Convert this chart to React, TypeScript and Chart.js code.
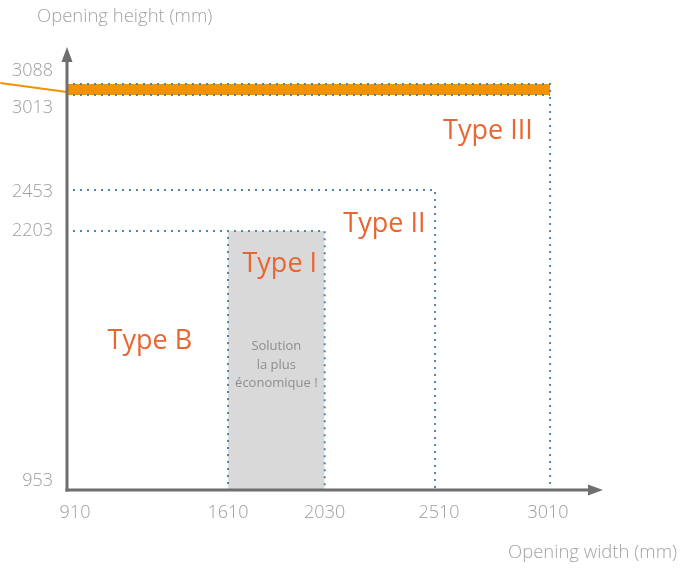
import React, { useEffect, useRef } from 'react';
import { Chart, registerables, LinearScale } from 'chart.js';

// ---- data ----
const xTicks = [910, 1610, 2030, 2510, 3010];
const yTicks = [953, 2203, 2453, 3013, 3088];
const xRange = [910, 3240];
const yRange = [953, 3330];
// schematic y axis: share of the axis height reached at each value
const ySegmentValues = [953, 2203, 2453, 3013, 3088, 3330];
const ySegmentShares = [0, 0.5847, 0.6772, 0.8916, 0.9165, 1];

const typeIWidths = [1610, 2030];
const typeIHeight = 2203;
const typeIIWidth = 2510;
const typeIIHeight = 2453;
const typeIIIWidth = 3010;
const typeIIIHeights = [3013, 3088];
const leaderX = [620, 910];
const leaderY = [3095, 3033];

const typeLabels = ['Type B', 'Type I', 'Type II', 'Type III'];
const typeLabelX = [1270, 1835, 2290, 2740];
const typeLabelY = [1670, 2040, 2245, 2800];
const noteLines = ['Solution', 'la plus', 'économique !'];
const noteX = 1820;
const noteY = 1555;

// label nudges (px) so labels don't collide with the axes / each other
const xTickNudge = [8, 0, 0, 4, -2];
const yTickNudge = [-9, 0, 2, 13, -13];

const DOT = '#4f87aa';
const ORANGE = '#f39200';
const RED = '#ea6532';
const GREY_TEXT = '#9d9d9d';
const AXIS = '#6f6f6f';
const FONT = "'Open Sans', 'Noto Sans', sans-serif";

function toShare(v: number) {
  const vs = ySegmentValues, ss = ySegmentShares;
  if (v <= vs[0]) return ss[0] + (v - vs[0]) / (vs[1] - vs[0]) * (ss[1] - ss[0]);
  for (let i = 1; i < vs.length; i++) {
    if (v <= vs[i]) return ss[i - 1] + (v - vs[i - 1]) / (vs[i] - vs[i - 1]) * (ss[i] - ss[i - 1]);
  }
  const n = vs.length - 1;
  return ss[n] + (v - vs[n]) / (vs[n] - vs[n - 1]) * (ss[n] - ss[n - 1]);
}
function fromShare(s: number) {
  const vs = ySegmentValues, ss = ySegmentShares;
  for (let i = 1; i < ss.length; i++) {
    if (s <= ss[i] || i === ss.length - 1) return vs[i - 1] + (s - ss[i - 1]) / (ss[i] - ss[i - 1]) * (vs[i] - vs[i - 1]);
  }
  return vs[vs.length - 1];
}

class SegmentScale extends LinearScale {
  static id = 'segment';
  static defaults = { ...(LinearScale as any).defaults };
  getPixelForValue(value: number) {
    return (this as any).getPixelForDecimal(toShare(value));
  }
  getValueForPixel(pixel: number) {
    return fromShare((this as any).getDecimalForPixel(pixel));
  }
}

Chart.register(...registerables, SegmentScale as any);

const pts = (xs: number[], ys: number[]) => xs.map((x, i) => ({ x, y: ys[i] }));

const overlay = {
  id: 'overlay',
  afterDatasetsDraw(chart: any) {
    const { ctx, chartArea: a, scales } = chart;
    const x = scales.x, y = scales.y;
    ctx.save();
    // axes
    ctx.strokeStyle = AXIS;
    ctx.fillStyle = AXIS;
    ctx.lineWidth = 3;
    ctx.beginPath();
    ctx.moveTo(a.left, a.bottom + 1.5);
    ctx.lineTo(a.left, a.top + 12);
    ctx.stroke();
    ctx.beginPath();
    ctx.moveTo(a.left - 1.5, a.bottom);
    ctx.lineTo(a.right - 12, a.bottom);
    ctx.stroke();
    ctx.beginPath();
    ctx.moveTo(a.left, a.top);
    ctx.lineTo(a.left - 5.5, a.top + 15);
    ctx.lineTo(a.left + 5.5, a.top + 15);
    ctx.closePath();
    ctx.fill();
    ctx.beginPath();
    ctx.moveTo(a.right, a.bottom);
    ctx.lineTo(a.right - 15, a.bottom - 5.5);
    ctx.lineTo(a.right - 15, a.bottom + 5.5);
    ctx.closePath();
    ctx.fill();

    // tick labels
    ctx.fillStyle = GREY_TEXT;
    ctx.font = `300 18px ${FONT}`;
    ctx.textAlign = 'center';
    ctx.textBaseline = 'middle';
    xTicks.forEach((v, i) => {
      ctx.fillText(String(v), x.getPixelForValue(v) + xTickNudge[i], a.bottom + 23);
    });
    ctx.textAlign = 'right';
    yTicks.forEach((v, i) => {
      ctx.fillText(String(v), a.left - 14, y.getPixelForValue(v) + yTickNudge[i]);
    });

    // axis titles
    ctx.font = `300 18.5px ${FONT}`;
    ctx.fillStyle = '#a3a3a3';
    ctx.textAlign = 'left';
    ctx.fillText('Opening height (mm)', 37, 17);
    ctx.textAlign = 'right';
    ctx.fillText('Opening width (mm)', 677, 553);

    // type labels
    ctx.fillStyle = RED;
    ctx.font = `400 27px ${FONT}`;
    ctx.textAlign = 'center';
    typeLabels.forEach((t, i) => {
      ctx.fillText(t, x.getPixelForValue(typeLabelX[i]), y.getPixelForValue(typeLabelY[i]));
    });

    // note
    ctx.fillStyle = '#8e8e8e';
    ctx.font = `400 13px ${FONT}`;
    const nx = x.getPixelForValue(noteX);
    const ny = y.getPixelForValue(noteY);
    noteLines.forEach((t, i) => {
      ctx.fillText(t, nx, ny + (i - 1) * 18.5);
    });
    ctx.restore();
  },
};

const dotted = (data: any[]) => ({
  data,
  showLine: true,
  borderColor: DOT,
  borderWidth: 2,
  borderDash: [2, 5],
  borderDashOffset: -6,
  borderCapStyle: 'butt',
  pointRadius: 0,
  fill: false,
  order: 1,
});

export default function App() {
  const ref = useRef<HTMLCanvasElement>(null);
  useEffect(() => {
    if (!ref.current) return;
    const chart = new Chart(ref.current, {
      type: 'scatter',
      data: {
        datasets: [
          dotted(pts([xRange[0], typeIWidths[1], typeIWidths[1]], [typeIHeight, typeIHeight, yRange[0]])),
          dotted(pts([typeIWidths[0], typeIWidths[0]], [typeIHeight, yRange[0]])),
          dotted(pts([xRange[0], typeIIWidth, typeIIWidth], [typeIIHeight, typeIIHeight, yRange[0]])),
          dotted(pts([xRange[0], typeIIIWidth, typeIIIWidth], [typeIIIHeights[1], typeIIIHeights[1], yRange[0]])),
          dotted(pts([xRange[0], typeIIIWidth], [typeIIIHeights[0], typeIIIHeights[0]])),
          {
            data: pts(typeIWidths, [typeIHeight, typeIHeight]),
            showLine: true,
            borderWidth: 0,
            borderColor: 'rgba(0,0,0,0)',
            backgroundColor: '#d9d9d9',
            pointRadius: 0,
            fill: 'start',
            order: 10,
          },
          {
            data: pts([xRange[0], typeIIIWidth], [typeIIIHeights[1], typeIIIHeights[1]]),
            showLine: true,
            borderWidth: 0,
            borderColor: 'rgba(0,0,0,0)',
            backgroundColor: ORANGE,
            pointRadius: 0,
            fill: { value: typeIIIHeights[0] },
            order: 10,
          },
          {
            data: pts(leaderX, leaderY),
            showLine: true,
            borderWidth: 2,
            borderColor: ORANGE,
            pointRadius: 0,
            fill: false,
            clip: false,
            order: 5,
          },
        ] as any,
      },
      options: {
        animation: false,
        responsive: false,
        maintainAspectRatio: false,
        layout: { padding: { left: 67, right: 93, top: 47, bottom: 78 } },
        plugins: { legend: { display: false }, tooltip: { enabled: false } },
        scales: {
          x: { type: 'linear', min: xRange[0], max: xRange[1], display: false },
          y: { type: 'segment' as any, min: yRange[0], max: yRange[1], display: false },
        },
      } as any,
      plugins: [overlay],
    });
    return () => chart.destroy();
  }, []);
  return (
    <div style={{ position: 'absolute', left: 0, top: 0, width: 696, height: 568, background: '#fff' }}>
      <canvas ref={ref} width={696} height={568} />
    </div>
  );
}
